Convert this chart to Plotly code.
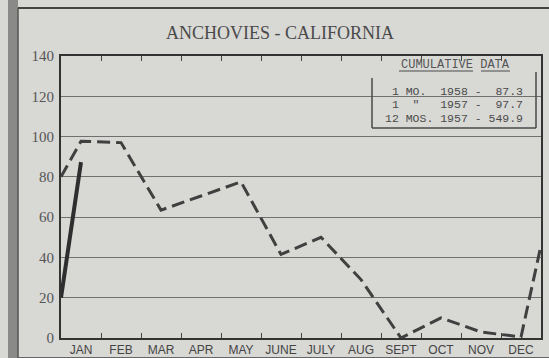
import plotly.graph_objects as go

# Monthly landings (millions of pounds), California anchovies
months = ["JAN", "FEB", "MAR", "APR", "MAY", "JUNE", "JULY", "AUG",
          "SEPT", "OCT", "NOV", "DEC"]
y1957 = [97.7, 97.0, 63.5, 70.5, 77.5, 41.5, 50.0, 29.0, 0.0, 10.0, 3.0, 0.5]
y1957_prev_dec = 80.0   # carried in from the previous December
y1957_next_jan = 46.0   # carried out to the following January
y1958 = [87.3]
y1958_prev_dec = 20.0

yticks = [0, 20, 40, 60, 80, 100, 120, 140]

cum_lines = [
    "\u00a01\u00a0MO.\u00a0\u00a01958\u00a0-\u00a0\u00a087.3",
    "\u00a01\u00a0\u00a0\"\u00a0\u00a0\u00a01957\u00a0-\u00a0\u00a097.7",
    "12\u00a0MOS.\u00a01957\u00a0-\u00a0549.9",
]

W, H = 549, 358
L, R, T, B = 61, 541, 56, 338
BG = "#d8d8d5"


def px(x):
    return (x - L) / (R - L)


def py(y):
    return (B - y) / (B - T)


x_pos = list(range(len(months)))
bounds = [i + 0.5 for i in range(len(months) - 1)]

fig = go.Figure()

# 1957 (dashed), extended half a month each side to the plot edges
fig.add_trace(go.Scatter(
    x=[-0.5] + x_pos + [11.5],
    y=[y1957_prev_dec] + y1957 + [y1957_next_jan],
    mode="lines",
    line=dict(color="#404040", width=3, dash="13px,6px"),
    showlegend=False, hoverinfo="skip",
))

# 1958 (solid)
fig.add_trace(go.Scatter(
    x=[-0.5] + x_pos[:len(y1958)],
    y=[y1958_prev_dec] + y1958,
    mode="lines",
    line=dict(color="#2e2e2e", width=4),
    showlegend=False, hoverinfo="skip",
))

# empty trace so the top month-boundary tick axis is drawn
fig.add_trace(go.Scatter(x=[], y=[], xaxis="x2", showlegend=False,
                         hoverinfo="skip"))

shapes = []
# page decoration: binding shadow bar and page frame
shapes.append(dict(type="rect", xref="paper", yref="paper",
                   x0=px(8), x1=px(18), y0=py(358), y1=py(0),
                   fillcolor="#8a8a88", line=dict(width=0), layer="below"))
shapes.append(dict(type="line", xref="paper", yref="paper",
                   x0=px(18), x1=px(549), y0=py(8), y1=py(8),
                   line=dict(color="#444", width=2)))
shapes.append(dict(type="line", xref="paper", yref="paper",
                   x0=px(18), x1=px(18), y0=py(8), y1=py(358),
                   line=dict(color="#555", width=1.5)))
shapes.append(dict(type="line", xref="paper", yref="paper",
                   x0=px(18), x1=px(549), y0=py(357.5), y1=py(357.5),
                   line=dict(color="#666", width=1)))

# cumulative data box
box_col = "#4a4a4a"
shapes.append(dict(type="line", xref="paper", yref="paper",
                   x0=px(372), x1=px(372), y0=py(78), y1=py(128),
                   line=dict(color=box_col, width=1.5)))
shapes.append(dict(type="line", xref="paper", yref="paper",
                   x0=px(372), x1=px(536), y0=py(128), y1=py(128),
                   line=dict(color=box_col, width=1.5)))
shapes.append(dict(type="line", xref="paper", yref="paper",
                   x0=px(536), x1=px(536), y0=py(72), y1=py(128),
                   line=dict(color=box_col, width=1.5)))
# underlines of the heading
shapes.append(dict(type="line", xref="paper", yref="paper",
                   x0=px(399), x1=px(473), y0=py(71), y1=py(71),
                   line=dict(color=box_col, width=1)))
shapes.append(dict(type="line", xref="paper", yref="paper",
                   x0=px(481), x1=px(510), y0=py(71), y1=py(71),
                   line=dict(color=box_col, width=1)))

annotations = [
    dict(text="ANCHOVIES - CALIFORNIA", xref="paper", yref="paper",
         x=px(280), y=py(33), xanchor="center", yanchor="middle",
         showarrow=False,
         font=dict(family="Liberation Serif", size=18, color="#4a4a4a")),
    dict(text="CUMULATIVE\u00a0DATA", xref="paper", yref="paper",
         x=px(399), y=py(65), xanchor="left", yanchor="middle",
         showarrow=False,
         font=dict(family="Liberation Mono", size=12, color="#555")),
]
for i, s in enumerate(cum_lines):
    annotations.append(dict(
        text=s, xref="paper", yref="paper",
        x=px(383), y=py(91 + i * 13.5), xanchor="left", yanchor="middle",
        showarrow=False,
        font=dict(family="Liberation Mono", size=11.5, color="#4a4a4a")))

fig.update_layout(
    width=W, height=H,
    margin=dict(l=L, r=W - R, t=T, b=H - B, pad=0, autoexpand=False),
    paper_bgcolor=BG, plot_bgcolor=BG,
    shapes=shapes, annotations=annotations,
    xaxis=dict(
        range=[-0.5, 11.5], tickmode="array", tickvals=x_pos, ticktext=months,
        ticks="", showgrid=False, zeroline=False, automargin=False,
        showline=True, linecolor="#333", linewidth=2, mirror=True,
        ticklabelstandoff=0,
        tickfont=dict(family="Liberation Sans", size=12, color="#444"),
        minor=dict(tickmode="array", tickvals=bounds,
                   ticks="inside", ticklen=5, tickcolor="#444", tickwidth=1,
                   showgrid=False),
    ),
    xaxis2=dict(
        overlaying="x", side="top", range=[-0.5, 11.5], automargin=False,
        tickmode="array", tickvals=bounds, ticks="inside", ticklen=5,
        tickcolor="#444", tickwidth=1, showticklabels=False,
        showgrid=False, zeroline=False, showline=False,
    ),
    yaxis=dict(
        range=[0, 140], tickmode="array", tickvals=yticks,
        ticktext=[str(v) for v in yticks], automargin=False,
        ticks="", showgrid=True, gridcolor="#707070", gridwidth=1,
        zeroline=False, showline=True, linecolor="#333", linewidth=2,
        mirror=True, ticklabelstandoff=2,
        tickfont=dict(family="Liberation Serif", size=15, color="#555"),
    ),
)

fig.write_html("out.html")
